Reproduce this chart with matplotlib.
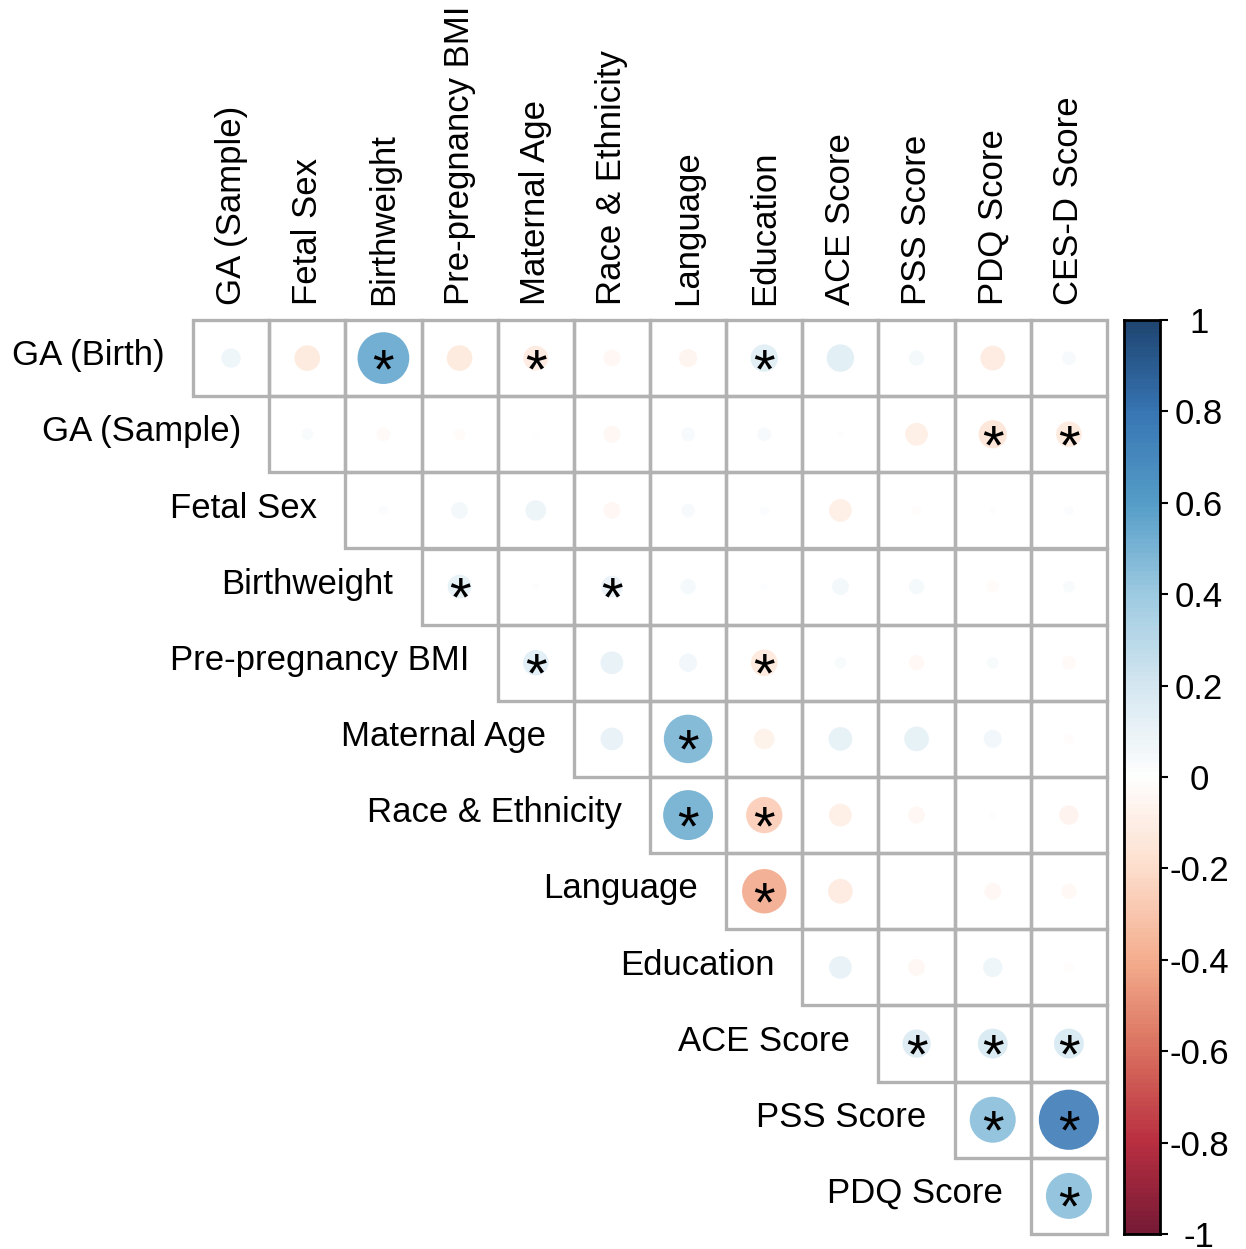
import numpy as np
import matplotlib
matplotlib.use("Agg")
import matplotlib.pyplot as plt
from matplotlib.colors import LinearSegmentedColormap
from matplotlib.patches import Circle, Rectangle

plt.rcParams['font.family'] = ['Liberation Sans', 'DejaVu Sans']

row_labels = ['GA (Birth)', 'GA (Sample)', 'Fetal Sex', 'Birthweight',
              'Pre-pregnancy BMI', 'Maternal Age', 'Race & Ethnicity',
              'Language', 'Education', 'ACE Score', 'PSS Score', 'PDQ Score']
col_labels = ['GA (Sample)', 'Fetal Sex', 'Birthweight', 'Pre-pregnancy BMI',
              'Maternal Age', 'Race & Ethnicity', 'Language', 'Education',
              'ACE Score', 'PSS Score', 'PDQ Score', 'CES-D Score']

# correlations, one list per row, starting at the diagonal column
r_ga_birth = [0.08, -0.14, 0.57, -0.14, -0.13, -0.06, -0.07, 0.16, 0.16, 0.05, -0.13, 0.04]
r_ga_sample = [0.03, -0.04, -0.03, -0.01, -0.06, 0.04, 0.04, 0.01, -0.11, -0.17, -0.14]
r_fetal_sex = [0.02, 0.06, 0.09, -0.06, 0.04, 0.02, -0.11, -0.02, 0.01, 0.02]
r_birthweight = [0.12, 0.01, 0.10, 0.05, 0.01, 0.06, 0.05, -0.03, 0.03]
r_bmi = [0.14, 0.11, 0.07, -0.15, 0.03, -0.05, 0.03, -0.04]
r_maternal_age = [0.11, 0.50, -0.09, 0.12, 0.13, 0.07, -0.02]
r_race = [0.53, -0.28, -0.11, -0.06, 0.01, -0.08]
r_language = [-0.42, -0.13, -0.01, -0.06, -0.05]
r_education = [0.11, -0.06, 0.08, -0.02]
r_ace = [0.17, 0.19, 0.19]
r_pss = [0.45, 0.77]
r_pdq = [0.45]
corr_rows = [r_ga_birth, r_ga_sample, r_fetal_sex, r_birthweight, r_bmi,
             r_maternal_age, r_race, r_language, r_education, r_ace, r_pss, r_pdq]

# significant cells (row, column)
significant = [(0, 2), (0, 4), (0, 7), (1, 10), (1, 11), (3, 3), (3, 5),
               (4, 4), (4, 7), (5, 6), (6, 6), (6, 7), (7, 7),
               (9, 9), (9, 10), (9, 11), (10, 10), (10, 11), (11, 11)]

# corrplot-style RdBu palette
pal = ['#67001F', '#B2182B', '#D6604D', '#F4A582', '#FDDBC7', '#FFFFFF',
       '#D1E5F0', '#92C5DE', '#4393C3', '#2166AC', '#053061']
cmap = LinearSegmentedColormap.from_list('rdbu2', pal, N=200)
n = len(col_labels)
grid_col = '#b2b2b2'

fig = plt.figure(figsize=(12.46, 12.49), dpi=100)
ax = fig.add_axes([193 / 1246, 15 / 1249, 914 / 1246, 914 / 1249])
ax.set_xlim(0, n)
ax.set_ylim(n, 0)
ax.set_aspect('equal')
ax.axis('off')

for i, row in enumerate(corr_rows):
    for k, r in enumerate(row):
        j = i + k
        ax.add_patch(Rectangle((j, i), 1, 1, fill=False, edgecolor=grid_col,
                               lw=2.4, clip_on=False, zorder=1))
        rad = 0.45 * np.sqrt(abs(r))
        ax.add_patch(Circle((j + 0.5, i + 0.5), rad, facecolor=cmap((r + 1) / 2),
                            edgecolor='none', alpha=0.8, zorder=2))

for i, j in significant:
    ax.text(j + 0.5, i + 0.88, '*', fontsize=40, ha='center', va='baseline',
            color='black', zorder=3)

for i, lab in enumerate(row_labels):
    ax.text(i - 0.37, i + 0.47, lab, fontsize=25, ha='right', va='center')

for j, lab in enumerate(col_labels):
    ax.text(j + 0.5, -0.2, lab, fontsize=25, rotation=90, ha='center', va='bottom')

# colour bar
cax = fig.add_axes([1124 / 1246, 15 / 1249, 36 / 1246, 914 / 1249])
grad = np.linspace(1, -1, 200).reshape(-1, 1)
cax.imshow(grad, cmap=cmap, vmin=-1, vmax=1, aspect='auto', extent=[0, 1, -1, 1],
           alpha=0.9)
cax.set_xticks([])
ticks = np.round(np.arange(-1, 1.01, 0.2), 1)
cax.set_yticks(ticks)
cax.set_yticklabels(['%g' % t if t != 0 else '0' for t in ticks], ha='center')
cax.yaxis.tick_right()
cax.tick_params(axis='y', length=6, width=1.5, pad=22, labelsize=25)
for s in cax.spines.values():
    s.set_linewidth(2)

fig.savefig('out.png', dpi=100)
